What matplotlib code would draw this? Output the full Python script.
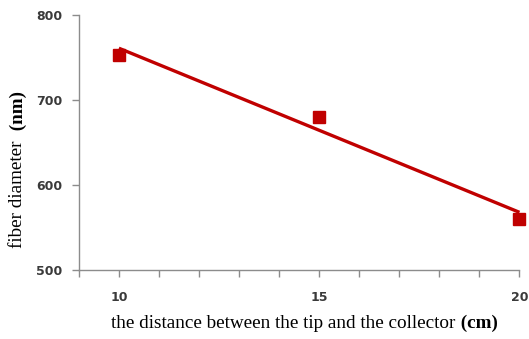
"""Fiber diameter vs tip-collector distance, with linear trendline."""

import matplotlib

matplotlib.use("Agg")

import matplotlib.pyplot as plt
import numpy as np
from matplotlib.ticker import MultipleLocator

distance_cm = [10, 15, 20]
diameter_nm = [753, 680, 560]
x_ticks = [10, 15, 20]
y_ticks = [500, 600, 700, 800]

RED = "#C00000"
AXIS_GREY = "#8C8C8C"
TICK_TEXT = "#3A3A3A"
SERIF = ["Liberation Serif", "DejaVu Serif"]

fig = plt.figure(figsize=(5.29, 3.39), dpi=100, facecolor="white")
ax = fig.add_axes([0.149, 0.2035, 0.833, 0.7525])

ax.plot(distance_cm, diameter_nm, linestyle="none", marker="s",
        markersize=8.5, color=RED, zorder=2, clip_on=False)

# linear trendline, fitted like the spreadsheet does
slope, intercept = np.polyfit(distance_cm, diameter_nm, 1)
x_fit = np.array([distance_cm[0], distance_cm[-1]])
ax.plot(x_fit, slope * x_fit + intercept, color=RED, linewidth=2.4,
        solid_capstyle="butt", zorder=3, clip_on=False)

ax.set_xlim(9, 20)
ax.set_ylim(500, 800)
ax.set_xticks(x_ticks)
ax.xaxis.set_minor_locator(MultipleLocator(1))
ax.set_yticks(y_ticks)

for side in ("top", "right"):
    ax.spines[side].set_visible(False)
for side in ("left", "bottom"):
    ax.spines[side].set_color(AXIS_GREY)
    ax.spines[side].set_linewidth(1.0)

ax.tick_params(axis="both", which="both", direction="out", length=5,
               width=1.0, color=AXIS_GREY, labelcolor=TICK_TEXT,
               labelsize=9)
ax.tick_params(axis="x", which="major", pad=10)
ax.tick_params(axis="y", which="major", pad=7)
for label in ax.get_xticklabels() + ax.get_yticklabels():
    label.set_fontweight("bold")

# axis titles: plain text followed by a bold unit
x_title = fig.text(0.536, 0.02, "the distance between the tip and the collector",
                   ha="center", va="bottom", fontsize=13.8, family=SERIF)
ax.annotate(" (cm)", xy=(1, 0), xycoords=x_title, ha="left", va="bottom",
            fontsize=13.8, family=SERIF, fontweight="bold")

y_title = fig.text(0.034, 0.435, "fiber diameter ", rotation=90,
                   ha="center", va="center", fontsize=13.8, family=SERIF)
ax.annotate(" (nm)", xy=(0.5, 1), xycoords=y_title, rotation=90,
            ha="center", va="bottom", fontsize=13.8, family=SERIF,
            fontweight="bold")

fig.savefig("out.png", dpi=100, facecolor="white")
